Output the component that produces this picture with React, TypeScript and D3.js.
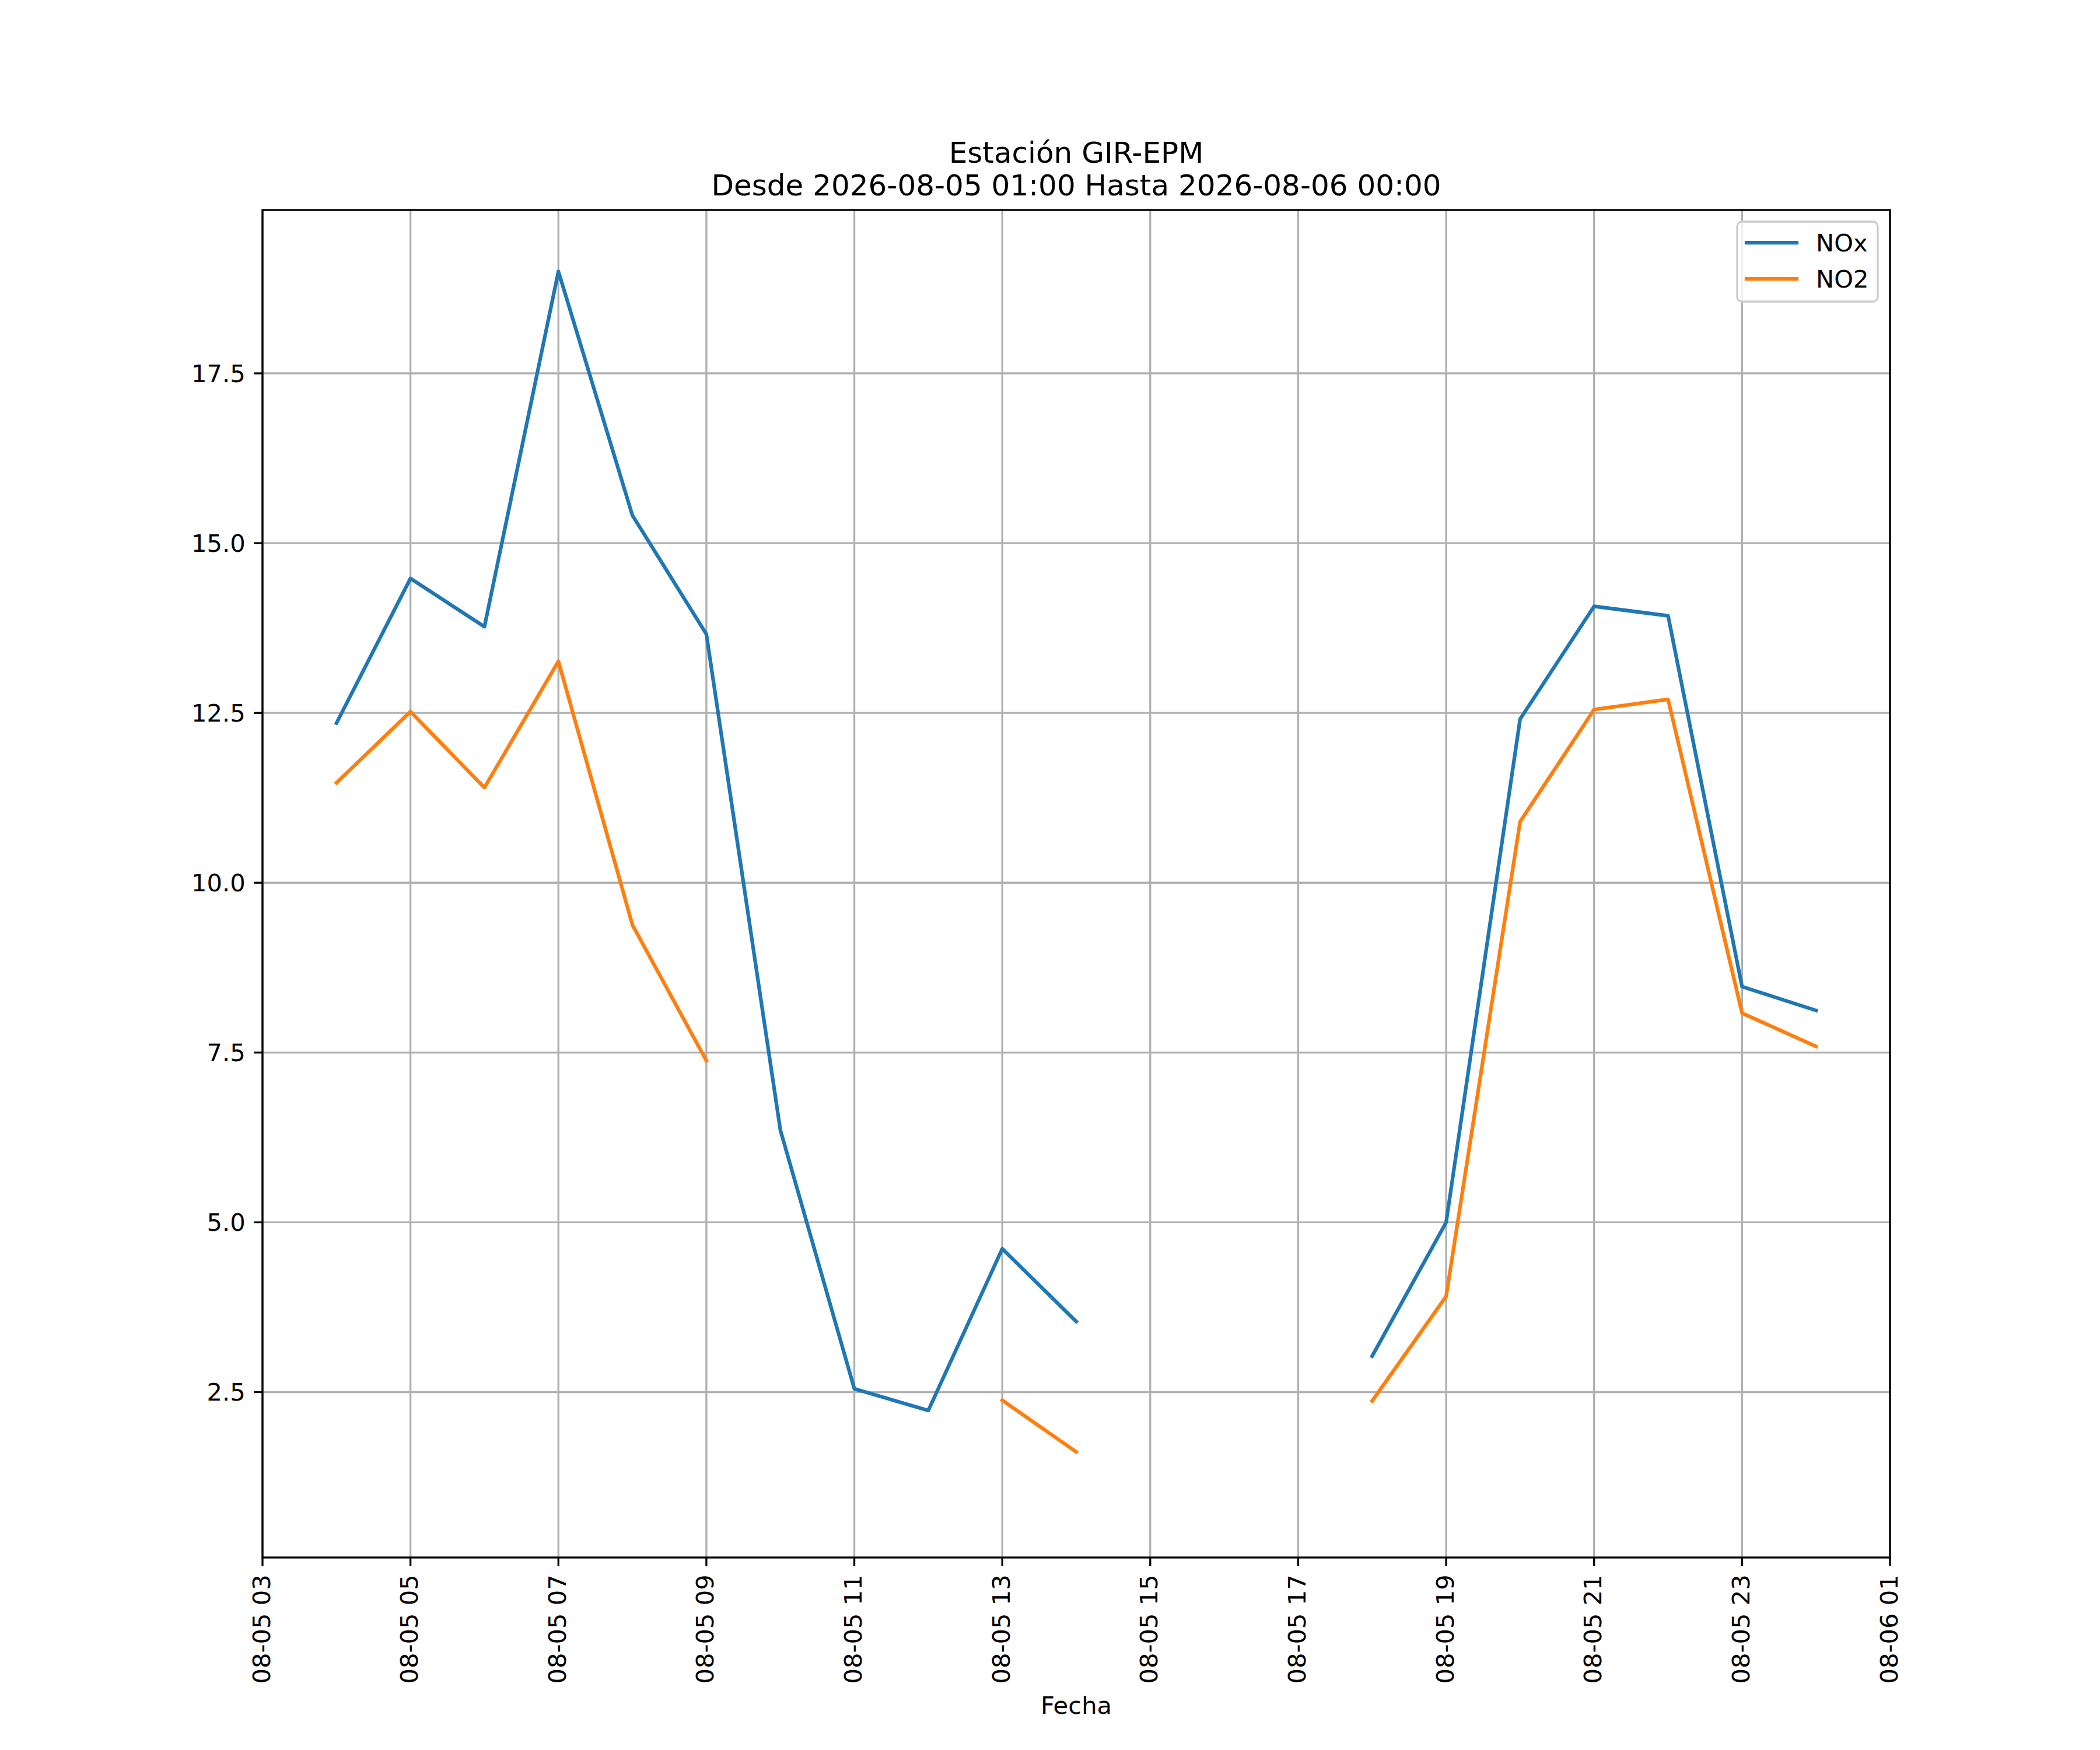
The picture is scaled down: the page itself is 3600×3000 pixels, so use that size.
import * as d3 from "d3";

// ─── Data ────────────────────────────────────────────────────────────────────
const hours = [
  "2026-08-05T04:00", "2026-08-05T05:00", "2026-08-05T06:00", "2026-08-05T07:00",
  "2026-08-05T08:00", "2026-08-05T09:00", "2026-08-05T10:00", "2026-08-05T11:00",
  "2026-08-05T12:00", "2026-08-05T13:00", "2026-08-05T14:00", "2026-08-05T15:00",
  "2026-08-05T16:00", "2026-08-05T17:00", "2026-08-05T18:00", "2026-08-05T19:00",
  "2026-08-05T20:00", "2026-08-05T21:00", "2026-08-05T22:00", "2026-08-05T23:00",
  "2026-08-06T00:00",
];

const noxValues: (number | null)[] = [
  12.35, 14.48, 13.77, 19.0, 15.41, 13.66, 6.36, 2.55, 2.23, 4.61, 3.54,
  null, null, null, 3.03, 5.0, 12.41, 14.07, 13.93, 8.47, 8.12,
];

const no2Values: (number | null)[] = [
  11.47, 12.52, 11.4, 13.26, 9.38, 7.38, null, null, null, 2.38, 1.62,
  null, null, null, 2.37, 3.91, 10.9, 12.55, 12.7, 8.08, 7.59,
];

const seriesNames = ["NOx", "NO2"];
const seriesColors = ["#1f77b4", "#ff7f0e"];

const yTicks = [2.5, 5.0, 7.5, 10.0, 12.5, 15.0, 17.5];
const yDomain: [number, number] = [0.065, 19.905];
const xDomainText = ["2026-08-05T03:00", "2026-08-06T01:00"];

const titleLines = ["Estación GIR-EPM", "Desde 2026-08-05 01:00 Hasta 2026-08-06 00:00"];
const xLabel = "Fecha";

// ─── Layout (matplotlib defaults at 300 dpi) ─────────────────────────────────
const W = 3600;
const H = 3000;
const left = 450;
const right = 3240;
const top = 360;
const bottom = 2670;
const fontPx = 41.67;
const lw = 3.33;
const tickLen = 14.6;
const font = "'DejaVu Sans', sans-serif";

const parse = (s: string) => new Date(s + ":00Z");

export default function App() {
  const x = d3
    .scaleUtc()
    .domain(xDomainText.map(parse))
    .range([left, right]);
  const y = d3.scaleLinear().domain(yDomain).range([bottom, top]);

  const times = hours.map(parse);
  const xTicks = d3.utcHour.range(x.domain()[0], d3.utcHour.offset(x.domain()[1], 1), 2);
  const fmt = d3.utcFormat("%m-%d %H");

  const line = d3
    .line<number | null>()
    .defined((d) => d != null)
    .x((_, i) => x(times[i]))
    .y((d) => y(d as number));

  const series = [noxValues, no2Values];

  return (
    <svg
      width={W}
      height={H}
      viewBox={`0 0 ${W} ${H}`}
      style={{ position: "absolute", left: 0, top: 0, background: "#fff" }}
      fontFamily={font}
    >
      <rect x={0} y={0} width={W} height={H} fill="#fff" />

      {/* grid */}
      <g stroke="#b0b0b0" strokeWidth={lw}>
        {xTicks.map((t, i) => (
          <line key={`gx${i}`} x1={x(t)} x2={x(t)} y1={top} y2={bottom} />
        ))}
        {yTicks.map((v, i) => (
          <line key={`gy${i}`} x1={left} x2={right} y1={y(v)} y2={y(v)} />
        ))}
      </g>

      {/* series */}
      <defs>
        <clipPath id="plot">
          <rect x={left} y={top} width={right - left} height={bottom - top} />
        </clipPath>
      </defs>
      <g clipPath="url(#plot)" fill="none" strokeWidth={6.25} strokeLinejoin="round" strokeLinecap="square">
        {series.map((s, i) => (
          <path key={seriesNames[i]} d={line(s) ?? ""} stroke={seriesColors[i]} />
        ))}
      </g>

      {/* spines */}
      <rect
        x={left}
        y={top}
        width={right - left}
        height={bottom - top}
        fill="none"
        stroke="#000"
        strokeWidth={lw}
        strokeLinejoin="miter"
      />

      {/* x ticks */}
      <g>
        {xTicks.map((t, i) => (
          <g key={`xt${i}`}>
            <line x1={x(t)} x2={x(t)} y1={bottom} y2={bottom + tickLen} stroke="#000" strokeWidth={lw} />
            <text
              transform={`translate(${x(t)},${bottom + tickLen * 2}) rotate(-90)`}
              textAnchor="end"
              dy="0.3em"
              fontSize={fontPx}
              fill="#000"
            >
              {fmt(t)}
            </text>
          </g>
        ))}
      </g>

      {/* y ticks */}
      <g>
        {yTicks.map((v, i) => (
          <g key={`yt${i}`}>
            <line x1={left - tickLen} x2={left} y1={y(v)} y2={y(v)} stroke="#000" strokeWidth={lw} />
            <text
              x={left - tickLen * 2}
              y={y(v)}
              dy="0.36em"
              textAnchor="end"
              fontSize={fontPx}
              fill="#000"
            >
              {d3.format(".1f")(v)}
            </text>
          </g>
        ))}
      </g>

      {/* x label */}
      <text x={(left + right) / 2} y={2938} textAnchor="middle" fontSize={fontPx} fill="#000">
        {xLabel}
      </text>

      {/* title */}
      <text textAnchor="middle" fontSize={50} fill="#000">
        <tspan x={(left + right) / 2} y={279}>{titleLines[0]}</tspan>
        <tspan x={(left + right) / 2} y={335}>{titleLines[1]}</tspan>
      </text>

      {/* legend */}
      <g>
        <rect
          x={2978}
          y={380}
          width={241}
          height={137}
          rx={8}
          fill="#fff"
          fillOpacity={0.8}
          stroke="#cccccc"
          strokeWidth={lw}
        />
        {seriesNames.map((name, i) => (
          <g key={name} transform={`translate(0,${416 + i * 62})`}>
            <line x1={2994} x2={3080} y1={0} y2={0} stroke={seriesColors[i]} strokeWidth={6.25} strokeLinecap="square" />
            <text x={3113} y={0} dy="0.36em" fontSize={fontPx} fill="#000">
              {name}
            </text>
          </g>
        ))}
      </g>
    </svg>
  );
}
